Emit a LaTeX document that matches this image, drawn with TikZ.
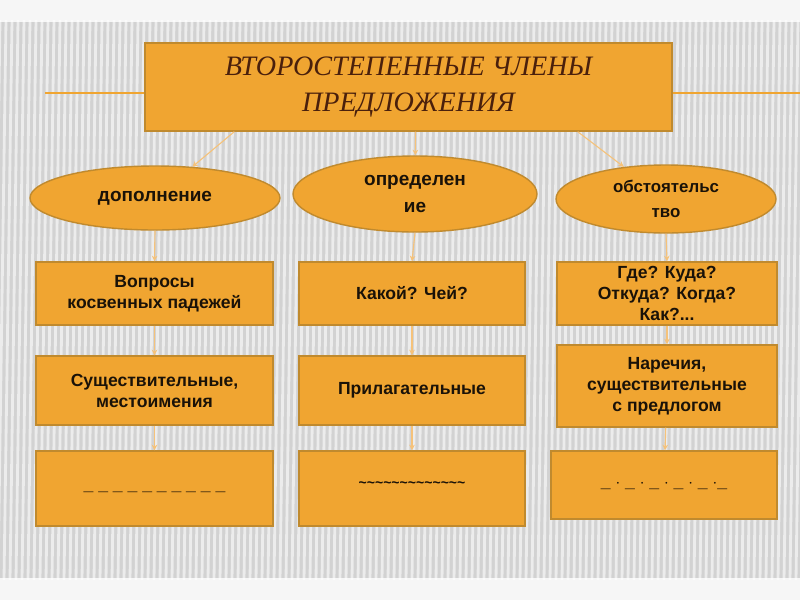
\documentclass[tikz,border=0pt]{standalone}
\usepackage{fontspec}
\setmainfont{Liberation Sans}
\newfontfamily\titlefont{Liberation Serif}
\usetikzlibrary{shapes.geometric,arrows.meta}
\definecolor{boxfill}{HTML}{F0A531}
\definecolor{boxedge}{HTML}{C08A2E}
\definecolor{txt}{HTML}{1A1208}
\definecolor{ttl}{HTML}{4A200C}
\definecolor{lnk}{HTML}{F5C27A}
\tikzset{
 px/.style={x=0.025cm,y=-0.025cm},
 rbox/.style={draw=boxedge,line width=1pt,fill=boxfill,text=txt,font=\bfseries\fontsize{12.5}{15}\selectfont,align=center,inner sep=2pt},
 ell/.style={ellipse,draw=boxedge,line width=1pt,fill=boxfill,text=txt,font=\bfseries\fontsize{13.5}{19}\selectfont,align=center,inner sep=0pt},
 link/.style={draw=lnk,line width=0.8pt,-{Stealth[length=4pt,width=4pt]}}
}
\begin{document}
\begin{tikzpicture}[px]
\useasboundingbox (0,0) rectangle (800,600);
\fill[gray!35] (0,0) rectangle (800,600);
\foreach \i in {0,6,...,810} {\draw[white!85!gray,line width=2pt] (\i,20) -- (\i-8,580);}
\fill[white,opacity=0.8] (0,0) rectangle (800,22);
\fill[white,opacity=0.8] (0,578) rectangle (800,600);
\draw[boxfill,line width=1pt] (45,93) -- (800,93);
\node[rbox,minimum width=527*0.025cm,minimum height=88*0.025cm,font=\titlefont\itshape\fontsize{20}{25}\selectfont,text=ttl] (t) at (408.5,87) {ВТОРОСТЕПЕННЫЕ ЧЛЕНЫ\\ПРЕДЛОЖЕНИЯ};
\node[ell,minimum width=250*0.025cm,minimum height=64*0.025cm] (e1) at (155,198) {дополнение};
\node[ell,minimum width=244*0.025cm,minimum height=76*0.025cm] (e2) at (415,194) {определен\\ие};
\node[ell,minimum width=220*0.025cm,minimum height=68*0.025cm,font=\bfseries\fontsize{12}{18}\selectfont] (e3) at (666,199) {обстоятельс\\тво};
\node[rbox,minimum width=237*0.025cm,minimum height=63*0.025cm] (a1) at (154.5,293.5) {Вопросы\\косвенных падежей};
\node[rbox,minimum width=226*0.025cm,minimum height=63*0.025cm] (b1) at (412,293.5) {Какой? Чей?};
\node[rbox,minimum width=220*0.025cm,minimum height=63*0.025cm] (c1) at (667,293.5) {Где? Куда?\\Откуда? Когда?\\Как?...};
\node[rbox,minimum width=237*0.025cm,minimum height=69*0.025cm] (a2) at (154.5,390.5) {Существительные,\\местоимения};
\node[rbox,minimum width=226*0.025cm,minimum height=69*0.025cm] (b2) at (412,390.5) {Прилагательные};
\node[rbox,minimum width=220*0.025cm,minimum height=82*0.025cm] (c2) at (667,386) {Наречия,\\существительные\\с предлогом};
\node[rbox,minimum width=237*0.025cm,minimum height=75*0.025cm] (a3) at (154.5,488.5) {\raisebox{-5pt}{\_ \_ \_ \_ \_ \_ \_ \_ \_ \_}};
\node[rbox,minimum width=226*0.025cm,minimum height=75*0.025cm,font=\bfseries\fontsize{10}{12}\selectfont] (b3) at (412,488.5) {\raisebox{6pt}{\textasciitilde\textasciitilde\textasciitilde\textasciitilde\textasciitilde\textasciitilde\textasciitilde\textasciitilde\textasciitilde\textasciitilde\textasciitilde\textasciitilde\textasciitilde}};
\node[rbox,minimum width=226*0.025cm,minimum height=68*0.025cm] (c3) at (664,485) {\_ $\cdot$ \_ $\cdot$ \_ $\cdot$ \_ $\cdot$ \_ $\cdot$\_};
\draw[link] (t.south west)++(90,0) -- (e1);
\draw[link] (t.south)++(7,0) -- (e2);
\draw[link] (t.south east)++(-95,0) -- (e3);
\draw[link] (e1.south) -- (a1.north);
\draw[link] (e2.south) -- (b1.north);
\draw[link] (e3.south) -- (c1.north);
\draw[link] (a1) -- (a2);
\draw[link] (b1) -- (b2);
\draw[link] (c1) -- (c2);
\draw[link] (a2) -- (a3);
\draw[link] (b2) -- (b3);
\draw[link] (c2) -- (c3);
\end{tikzpicture}
\end{document}
